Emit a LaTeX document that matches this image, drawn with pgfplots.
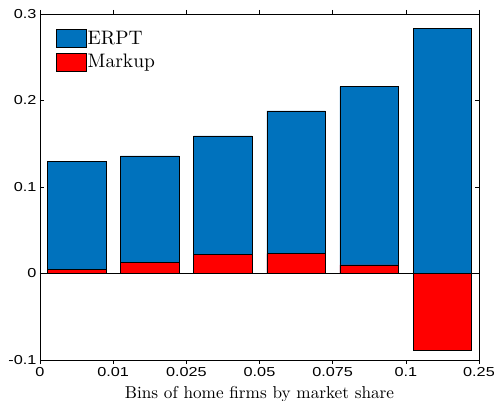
\documentclass[border=0pt]{standalone}
\usepackage{fontspec}
\usepackage{graphicx}
\usepackage{pgfplots}
\pgfplotsset{compat=1.18}
\usetikzlibrary{calc}
\newfontfamily\tickfont{Liberation Sans}
\newfontfamily\lmten{lmroman10-regular.otf}
\definecolor{mblue}{rgb}{0,0.447,0.741}
\newcommand{\tl}[1]{\scalebox{1.25}[1]{\fontsize{13bp}{15bp}\tickfont #1}}
\begin{document}
\begin{tikzpicture}
\begin{axis}[
  scale only axis, width=439bp, height=346bp,
  xmin=0, xmax=6, ymin=-0.1, ymax=0.3,
  xtick={0,1,2,3,4,5,6},
  xticklabels={\tl{0},\tl{0.01},\tl{0.025},\tl{0.05},\tl{0.075},\tl{0.1},\tl{0.25}},
  ytick={-0.1,0,0.1,0.2,0.3},
  yticklabels={\tl{-0.1},\tl{0},\tl{0.1},\tl{0.2},\tl{0.3}},
  tick align=inside, major tick length=4bp,
  tick style={black, line width=0.5bp},
  axis line style={black, line width=0.6bp},
  ybar, bar width=0.8,
  xlabel={Bins of home firms by market share},
  xlabel style={font=\lmten\fontsize{17.2bp}{20bp}\selectfont, at={(axis description cs:0.5,0)}, anchor=base, yshift=-38bp},
  legend cell align=left,
  legend image code/.code={\draw[#1,draw=black,line width=0.5bp] (0bp,-9bp) rectangle (30bp,9bp);},
  legend style={at={(axis description cs:0.0364,0.957)}, anchor=north west, draw=none, fill=none,
    font=\lmten\fontsize{19.5bp}{22bp}\selectfont, inner sep=0pt, row sep=5bp,
    nodes={inner xsep=1bp, inner ysep=1bp}},
]
\addplot[bar shift=0pt, fill=mblue, draw=black, line width=0.5bp] coordinates {
  (0.5,0.130) (1.5,0.136) (2.5,0.159) (3.5,0.188) (4.5,0.216) (5.5,0.283)};
\addlegendentry{ERPT}
\addplot[bar shift=0pt, fill=red, draw=black, line width=0.5bp] coordinates {
  (0.5,0.005) (1.5,0.013) (2.5,0.022) (3.5,0.023) (4.5,0.010) (5.5,-0.089)};
\addlegendentry{Markup}
\addplot[sharp plot, black, line width=0.5bp, forget plot] coordinates {(0,0) (6,0)};
\end{axis}
\pgfresetboundingbox
\path[use as bounding box] ($(current axis.south west)+(-40bp,-41bp)$) rectangle ($(current axis.north east)+(15bp,14bp)$);
\end{tikzpicture}
\end{document}
